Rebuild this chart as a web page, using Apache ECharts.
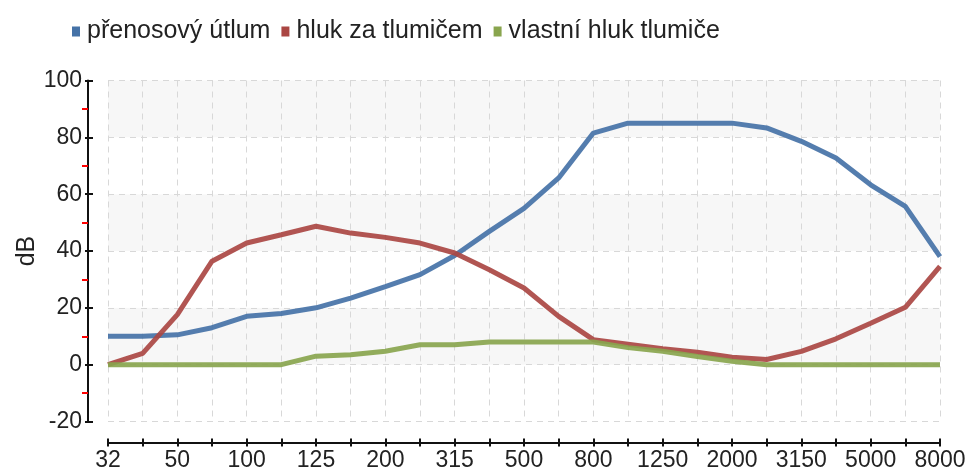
<!DOCTYPE html>
<html>
<head>
<meta charset="utf-8">
<script src="https://cdn.jsdelivr.net/npm/echarts@6/dist/echarts.min.js"></script>
<style>
html,body{margin:0;padding:0;background:#fff;}
#chart{width:980px;height:473px;}
</style>
</head>
<body>
<div id="chart"></div>
<script>
// Frequency bands (labels shown on every other band)
const categories = ['32','40','50','80','100','112','125','160','200','250','315','400','500','630','800','1000','1250','1600','2000','2500','3150','4000','5000','6300','8000'];
const seriesNames = ['přenosový útlum','hluk za tlumičem','vlastní hluk tlumiče'];
const prenosovyUtlum = [10,10,10.5,13,17,18,20,23.4,27.5,31.7,38.4,46.9,55,65.7,81.5,85,85,85,85,83.3,78.6,72.7,63.3,55.7,38];
const hlukZaTlumicem = [0,4,17.6,36.4,42.8,45.7,48.7,46.3,44.8,42.8,39.3,33.4,27,17,8.8,7.2,5.6,4.4,2.6,1.8,4.7,9.1,14.6,20.2,34.6];
const vlastniHluk = [0,0,0,0,0,0,3,3.5,4.7,7,7,8,8,8,8,6,4.7,2.9,1.2,0,0,0,0,0,0];
const yTicks = {min:-20, max:100, interval:20};
const colors = ['#4572A7','#AA4643','#89A54E'];

const axisFont = {fontFamily:"'Liberation Sans',Arial,sans-serif", fontSize:23, color:'#222'};
const chart = echarts.init(document.getElementById('chart'));
const lineSeries = (name, data, i) => ({
  name, type:'line', data, xAxisIndex:0, yAxisIndex:0,
  showSymbol:false, symbol:'rect', symbolSize:8,
  lineStyle:{width:5, color:colors[i], opacity:0.92},
  itemStyle:{color:colors[i]},
  z: 3 + i
});
chart.setOption({
  animation:false,
  color:colors,
  legend:{
    left:67, top:14, itemWidth:8, itemHeight:10, itemGap:11,
    icon:'rect',
    textStyle:{fontFamily:"'Liberation Sans',Arial,sans-serif", fontSize:25, color:'#222', padding:[0,0,0,2]},
    data:seriesNames
  },
  grid:{left:108, right:40, top:80.5, bottom:51.5, containLabel:false, outerBoundsMode:'none'},
  xAxis:[{
    type:'category', data:categories, boundaryGap:false, offset:21,
    axisLine:{onZero:false, lineStyle:{color:'#111', width:2}},
    axisTick:{interval:0, length:4, lineStyle:{color:'#111', width:2}},
    axisLabel:Object.assign({interval:1, margin:7}, axisFont),
    splitLine:{show:true, interval:0, lineStyle:{color:'#d8d8d8', type:[6,5], width:1}}
  },{
    type:'category', data:categories, boundaryGap:false, offset:21, position:'bottom',
    axisLine:{show:false, onZero:false},
    axisTick:{interval:0, inside:true, length:4, lineStyle:{color:'#111', width:2}},
    axisLabel:{show:false}, splitLine:{show:false}
  }],
  yAxis:[{
    type:'value', min:yTicks.min, max:yTicks.max, interval:yTicks.interval, offset:20, position:'left',
    name:'dB', nameLocation:'middle', nameGap:48, nameRotate:90, nameMoveOverlap:false,
    nameTextStyle:Object.assign({}, axisFont, {fontSize:25}),
    axisLine:{show:true, onZero:false, lineStyle:{color:'#111', width:2}},
    axisTick:{show:true, length:3, lineStyle:{color:'#111', width:2}},
    minorTick:{show:true, splitNumber:2, length:6, lineStyle:{color:'#ff0000', width:2}},
    axisLabel:Object.assign({margin:6}, axisFont),
    splitLine:{show:true, lineStyle:{color:'#d8d8d8', type:[6,5], width:1}},
    splitArea:{show:true, areaStyle:{color:['#ffffff','#f7f7f7']}}
  },{
    type:'value', min:yTicks.min, max:yTicks.max, interval:yTicks.interval, offset:20, position:'left',
    axisLine:{show:false, onZero:false},
    axisTick:{show:true, inside:true, length:5, lineStyle:{color:'#111', width:2}},
    axisLabel:{show:false}, splitLine:{show:false}, splitArea:{show:false}
  }],
  series:[
    lineSeries(seriesNames[0], prenosovyUtlum, 0),
    lineSeries(seriesNames[1], hlukZaTlumicem, 1),
    lineSeries(seriesNames[2], vlastniHluk, 2)
  ]
});
</script>
</body>
</html>
